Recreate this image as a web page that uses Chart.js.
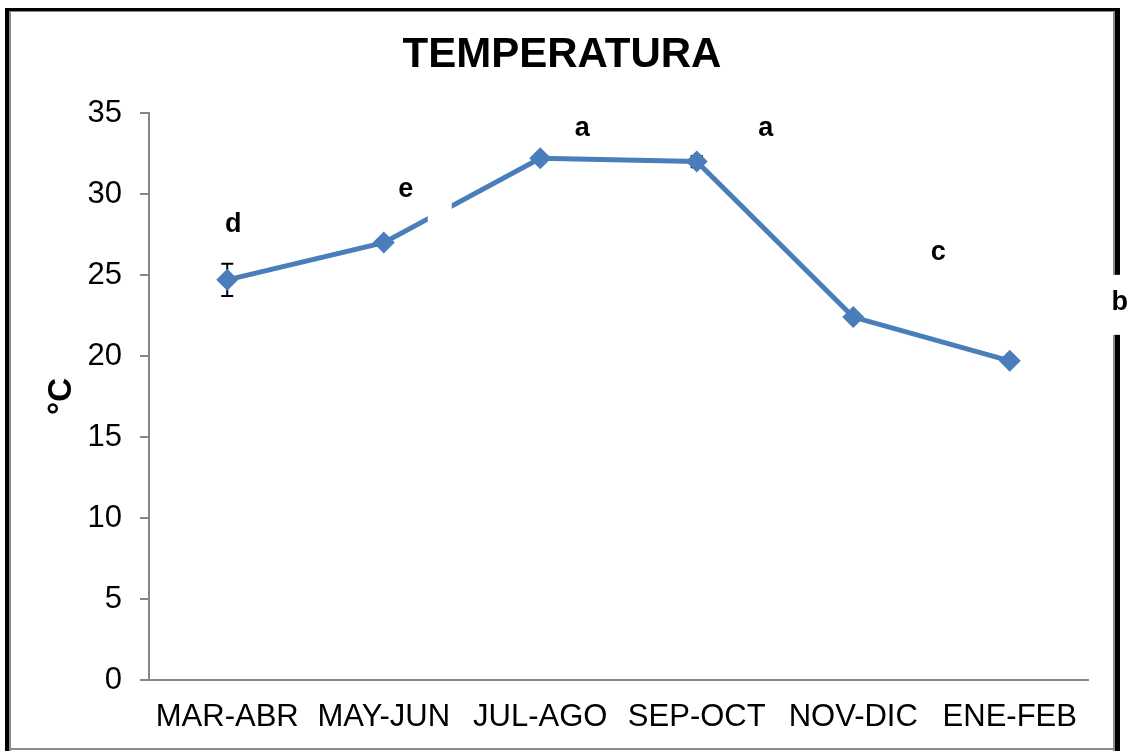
<!DOCTYPE html>
<html><head><meta charset="utf-8">
<script src="https://cdn.jsdelivr.net/npm/chart.js@4/dist/chart.umd.min.js"></script>
<style>html,body{margin:0;padding:0;background:#fff;}#wrap{width:1128px;height:751px;}</style>
</head><body><div id="wrap"><canvas id="c" width="1128" height="751"></canvas></div>
<script>
const categories = ['MAR-ABR', 'MAY-JUN', 'JUL-AGO', 'SEP-OCT', 'NOV-DIC', 'ENE-FEB'];
const temperature = [24.7, 27.0, 32.2, 32.0, 22.4, 19.7];
const tempError = [1.0, 0.15, 0.15, 0.35, 0.15, 0.15];
const sigLetters = ['d', 'e', 'a', 'a', 'c', 'b'];
const yTicks = [0, 5, 10, 15, 20, 25, 30, 35];
const chartTitle = 'TEMPERATURA';
const yTitle = '°C';

const FONT = '"Liberation Sans", Arial, sans-serif';
// label placement (style): pixel offsets of each letter from its point
const letterOffsets = [[6,-55],[22,-53],[42,-30],[69,-33],[85,-65],[110,-58]];
// white label boxes (style), relative to letter centre: [dx0, dy0, w, h]
const letterBoxes = {1: [22, 10, 24, 25], 5: [-12, -28, 22, 60]};

const framePlugin = {
  id: 'frame',
  beforeDraw(chart) {
    const ctx = chart.ctx, W = chart.width, H = chart.height;
    ctx.save();
    ctx.fillStyle = '#fff';
    ctx.fillRect(0, 0, W, H);
    ctx.fillStyle = '#000';
    ctx.fillRect(5, 8, 4, H - 8);
    ctx.fillRect(5, 8, 1115, 3);
    ctx.fillRect(1115, 8, 5, H - 8);
    ctx.fillStyle = '#8a8a8a';
    ctx.fillRect(9, 11, 2, H - 11);
    ctx.fillRect(9, 11, 1104, 1);
    ctx.fillRect(1113, 11, 2, H - 11);
    ctx.fillRect(9, 748, 1106, 2);
    // chart title
    ctx.fillStyle = '#000';
    ctx.font = 'bold 42px ' + FONT;
    ctx.textAlign = 'center';
    ctx.textBaseline = 'middle';
    ctx.fillText(chartTitle, 562, 55);
    ctx.restore();
  }
};

const errorPlugin = {
  id: 'errbars',
  beforeDatasetsDraw(chart) {
    const ctx = chart.ctx, meta = chart.getDatasetMeta(0), ys = chart.scales.y;
    ctx.save();
    ctx.strokeStyle = '#000';
    ctx.lineWidth = 2;
    meta.data.forEach((pt, i) => {
      const v = temperature[i], e = tempError[i];
      const y1 = ys.getPixelForValue(v + e), y2 = ys.getPixelForValue(v - e);
      ctx.beginPath();
      ctx.moveTo(pt.x, y1); ctx.lineTo(pt.x, y2);
      ctx.moveTo(pt.x - 6, y1); ctx.lineTo(pt.x + 6, y1);
      ctx.moveTo(pt.x - 6, y2); ctx.lineTo(pt.x + 6, y2);
      ctx.stroke();
    });
    ctx.restore();
  }
};

const letterPlugin = {
  id: 'letters',
  afterDraw(chart) {
    const ctx = chart.ctx, meta = chart.getDatasetMeta(0);
    ctx.save();
    meta.data.forEach((pt, i) => {
      const lx = pt.x + letterOffsets[i][0], ly = pt.y + letterOffsets[i][1];
      const b = letterBoxes[i];
      if (b) { ctx.fillStyle = '#fff'; ctx.fillRect(lx + b[0], ly + b[1], b[2], b[3]); }
    });
    ctx.fillStyle = '#000';
    ctx.font = 'bold 27px ' + FONT;
    ctx.textAlign = 'center';
    ctx.textBaseline = 'middle';
    meta.data.forEach((pt, i) => {
      ctx.fillText(sigLetters[i], pt.x + letterOffsets[i][0], pt.y + letterOffsets[i][1]);
    });
    ctx.restore();
  }
};

new Chart(document.getElementById('c'), {
  type: 'line',
  data: {
    labels: categories,
    datasets: [{
      data: temperature,
      borderColor: '#4A7EBB',
      backgroundColor: '#4A7EBB',
      borderWidth: 5,
      pointStyle: 'rectRot',
      pointRadius: 11,
      pointHoverRadius: 11,
      pointBorderWidth: 0,
      tension: 0,
      fill: false
    }]
  },
  options: {
    responsive: false,
    devicePixelRatio: 1,
    animation: false,
    events: [],
    layout: { padding: { left: 0, right: 40, top: 113, bottom: 0 } },
    plugins: {
      legend: { display: false },
      tooltip: { enabled: false },
      title: { display: false }
    },
    scales: {
      x: {
        offset: true,
        grid: { display: false, drawTicks: false },
        border: { color: '#868686', width: 2 },
        ticks: { color: '#000', font: { family: FONT, size: 31 }, padding: 19, maxRotation: 0, autoSkip: false },
        afterFit(s) { s.height = 71; }
      },
      y: {
        min: 0, max: 35,
        afterBuildTicks(s) { s.ticks = yTicks.map(v => ({ value: v })); },
        grid: { drawOnChartArea: false, drawTicks: true, tickLength: 9, color: '#868686', lineWidth: 2 },
        border: { color: '#868686', width: 2 },
        ticks: { color: '#000', font: { family: FONT, size: 31 }, padding: 18 },
        title: { display: true, text: yTitle, color: '#000', font: { family: FONT, size: 33, weight: 'bold' }, padding: { top: 42, bottom: 0 } },
        afterFit(s) { s.width = 149; }
      }
    }
  },
  plugins: [framePlugin, errorPlugin, letterPlugin]
});
</script></body></html>
